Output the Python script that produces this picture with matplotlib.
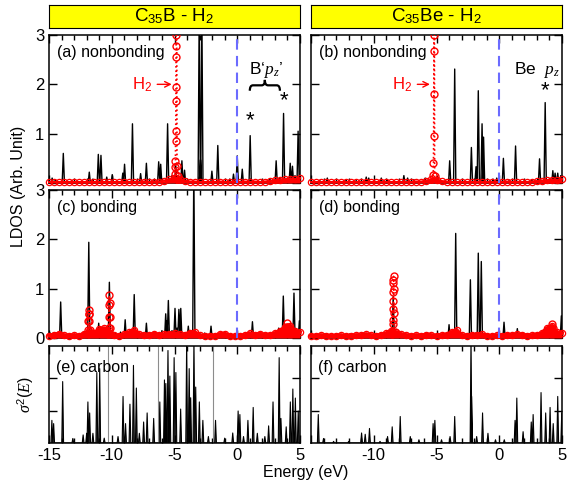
import numpy as np
import matplotlib
matplotlib.use('Agg')
import matplotlib.pyplot as plt
from matplotlib.ticker import MultipleLocator
from matplotlib.path import Path
from matplotlib.patches import PathPatch

plt.rcParams['font.family'] = ['Liberation Sans', 'DejaVu Sans']
plt.rcParams['axes.unicode_minus'] = False
plt.rcParams['mathtext.fontset'] = 'custom'
plt.rcParams['mathtext.rm'] = 'Liberation Sans'
plt.rcParams['mathtext.sf'] = 'Liberation Sans'
plt.rcParams['mathtext.it'] = 'Liberation Serif:italic'

# ---- black LDOS peaks (energy eV, height) ----
a_e = [-14.75, -14.5, -13.86, -13.2, -11.79, -11.5, -11.07, -10.86, -10.4, -9.96, -9.12, -8.98, -8.35, -7.7,
       -7.24, -6.6, -6.26, -6.1, -5.55, -5.2, -4.9, -4.41, -4.2, -3.03, -2.93, -2.82, -2.02, -1.55, -0.6, -0.3,
       0.0, 0.4, 1.03, 2.0, 2.6, 3.1, 3.4, 3.69, 4.22, 4.4, 4.6, 4.85]
a_h = [0.10, 0.06, 0.60, 0.05, 0.22, 0.08, 0.58, 0.56, 0.12, 0.17, 0.20, 0.38, 1.20, 0.19,
       0.40, 0.08, 0.43, 0.38, 1.20, 0.15, 0.35, 0.45, 0.26, 3.5, 0.47, 3.5, 0.24, 0.76, 0.08, 0.18,
       0.55, 0.28, 0.96, 0.06, 0.08, 0.45, 0.10, 1.41, 0.40, 0.34, 0.15, 1.05]

b_e = [-14.3, -13.7, -12.8, -12.2, -11.4, -10.6, -10.4, -9.4, -8.9, -7.6, -7.3, -6.8, -5.9, -3.95, -3.55,
       -2.22, -1.85, -1.67, -1.37, -1.25, -0.5, -0.2, 0.33, 0.8, 1.3, 2.0, 2.6, 3.21, 3.66, 4.27, 4.45,
       4.66, 4.9]
b_h = [0.05, 0.10, 0.04, 0.06, 0.05, 0.12, 0.10, 0.10, 0.06, 0.15, 0.10, 0.07, 0.10, 0.45, 2.31,
       0.72, 0.33, 1.87, 1.20, 0.93, 0.08, 0.10, 0.50, 0.06, 0.75, 0.05, 0.06, 0.49, 1.63, 0.25, 0.20,
       0.20, 0.15]

c_e = [-14.9, -14.5, -14.07, -13.3, -12.6, -12.2, -11.83, -11.04, -10.6, -10.19, -9.7, -9.3, -8.93, -8.21,
       -7.6, -7.24, -6.5, -6.0, -5.7, -5.6, -5.49, -5.2, -4.96, -4.8, -4.65, -4.5, -3.9, -3.46, -2.6, -2.09,
       -1.3, -0.5, 0.0, 0.5, 1.21, 2.0, 2.6, 3.3, 3.67, 4.1, 4.52, 4.95]
c_h = [0.10, 0.08, 0.73, 0.06, 0.08, 0.10, 1.94, 0.30, 0.15, 1.13, 0.10, 0.12, 0.37, 0.88,
       0.10, 0.30, 0.10, 0.15, 0.49, 0.35, 0.76, 0.15, 0.60, 0.2, 0.58, 0.60, 0.24, 3.5, 0.10, 0.24,
       0.06, 0.08, 0.12, 0.08, 0.33, 0.06, 0.08, 0.2, 0.85, 0.25, 0.91, 0.35]

d_e = [-14.5, -13.9, -13.3, -12.7, -12.1, -11.6, -10.8, -10.5, -9.6, -9.2, -8.45, -7.5, -7.0, -6.5, -5.7,
       -5.2, -4.4, -4.0, -3.47, -2.6, -2.3, -1.9, -1.67, -1.43, -0.9, -0.4, 0.38, 0.9, 1.44, 2.2, 3.0,
       3.8, 4.95]
d_h = [0.04, 0.06, 0.04, 0.05, 0.04, 0.05, 0.10, 0.06, 0.07, 0.05, 0.84, 0.05, 0.06, 0.04, 0.10,
       0.05, 0.08, 0.27, 2.12, 0.06, 1.18, 0.10, 1.72, 1.55, 0.05, 0.06, 0.32, 0.06, 0.19, 0.05, 0.06,
       0.08, 0.45]

# ---- carbon sigma^2(E) spikes ----
e_e = [-14.77, -14.63, -13.91, -13.1, -12.28, -12.0, -11.9, -11.76, -11.5, -11.19, -10.96, -10.6, -9.5,
       -9.1, -8.9, -8.55, -8.27, -8.04, -7.8, -7.46, -7.18, -6.66, -6.17, -5.8, -5.69, -5.52, -5.37,
       -5.03, -4.89, -4.51, -4.03, -3.83, -3.71, -3.45, -3.31, -3.02, -2.74, -2.3, -1.73, -1.0, -0.36,
       0.07, 0.21, 0.5, 0.85, 1.27, 1.6, 2.2, 2.5, 2.85, 3.34, 3.48, 3.9, 4.23, 4.43, 4.63, 4.86]
e_h = [0.7, 0.6, 1.9, 0.14, 0.25, 0.3, 1.27, 0.93, 0.3, 2.18, 2.3, 0.15, 0.2,
       1.44, 0.6, 1.2, 2.4, 1.7, 0.3, 0.65, 0.93, 0.76, 1.27, 1.95, 1.84, 2.86, 2.07,
       2.64, 2.18, 1.05, 3.2, 2.3, 1.4, 3.2, 1.73, 1.27, 0.7, 0.2, 0.7, 0.15, 0.31,
       0.99, 0.88, 0.2, 0.7, 1.1, 0.3, 0.2, 0.53, 1.27, 2.64, 0.76, 0.5, 1.27, 1.67, 1.39, 0.99]
e_gray_e = [-10.33, -6.32, -1.96]

f_e = [-14.42, -14.0, -13.2, -12.0, -10.97, -10.68, -10.34, -9.5, -8.9, -8.53, -7.89, -7.09, -6.4, -5.27,
       -5.13, -4.6, -3.92, -3.55, -2.25, -2.2, -1.8, -1.33, -0.9, -0.3, 0.4, 1.26, 1.4, 1.9, 2.55, 2.7,
       3.33, 3.7, 4.05, 4.3, 4.66, 4.98]
f_h = [0.88, 0.14, 0.05, 0.05, 0.31, 0.27, 0.45, 0.05, 0.2, 0.5, 0.82, 0.2, 0.1, 0.6,
       0.7, 0.1, 0.2, 0.82, 3.2, 1.44, 0.2, 0.93, 0.3, 0.1, 0.1, 0.7, 1.39, 0.35, 0.65, 0.88,
       1.56, 0.93, 1.1, 0.6, 1.44, 0.93]

# ---- H2 LDOS (red): coarse baseline + sharp peaks ----
base_e = [-15.0, -14.6, -14.2, -13.8, -13.4, -13.0, -12.6, -12.2, -11.8, -11.4,
          -11.0, -10.6, -10.2, -9.8, -9.4, -9.0, -8.6, -8.2, -7.8, -7.4,
          -7.0, -6.6, -6.2, -5.8, -5.4, -5.0, -4.6, -4.2, -3.8, -3.4,
          -3.0, -2.6, -2.2, -1.8, -1.4, -1.0, -0.6, -0.2, 0.2, 0.6,
          1.0, 1.4, 1.8, 2.2, 2.6, 3.0, 3.4, 3.8, 4.2, 4.6, 5.0]
red_a_base = [0.02, 0.02, 0.02, 0.02, 0.02, 0.02, 0.02, 0.02, 0.02, 0.02,
              0.02, 0.02, 0.02, 0.02, 0.02, 0.02, 0.02, 0.02, 0.02, 0.03,
              0.02, 0.03, 0.03, 0.05, 0.08, 0.10, 0.08, 0.05, 0.03, 0.03,
              0.02, 0.02, 0.02, 0.02, 0.03, 0.02, 0.02, 0.03, 0.02, 0.03,
              0.02, 0.03, 0.02, 0.03, 0.04, 0.06, 0.07, 0.08, 0.09, 0.08, 0.10]
red_b_base = [0.02, 0.02, 0.02, 0.02, 0.02, 0.02, 0.02, 0.02, 0.02, 0.02,
              0.02, 0.02, 0.02, 0.02, 0.02, 0.02, 0.02, 0.02, 0.02, 0.02,
              0.02, 0.03, 0.03, 0.05, 0.08, 0.06, 0.04, 0.03, 0.02, 0.02,
              0.02, 0.02, 0.02, 0.02, 0.02, 0.02, 0.02, 0.02, 0.02, 0.03,
              0.02, 0.02, 0.02, 0.02, 0.03, 0.04, 0.05, 0.06, 0.07, 0.06, 0.08]
red_c_base = [0.05, 0.07, 0.09, 0.06, 0.05, 0.06, 0.05, 0.09, 0.14, 0.10,
              0.18, 0.20, 0.16, 0.06, 0.05, 0.08, 0.12, 0.16, 0.08, 0.06,
              0.07, 0.09, 0.06, 0.08, 0.09, 0.10, 0.08, 0.07, 0.11, 0.12,
              0.06, 0.04, 0.05, 0.05, 0.08, 0.09, 0.05, 0.04, 0.05, 0.06,
              0.10, 0.07, 0.09, 0.06, 0.07, 0.10, 0.14, 0.22, 0.25, 0.15, 0.12]
red_d_base = [0.04, 0.05, 0.06, 0.05, 0.04, 0.05, 0.06, 0.04, 0.05, 0.06,
              0.06, 0.08, 0.06, 0.05, 0.07, 0.10, 0.14, 0.12, 0.08, 0.06,
              0.05, 0.06, 0.05, 0.07, 0.06, 0.05, 0.06, 0.07, 0.12, 0.16,
              0.06, 0.05, 0.07, 0.06, 0.08, 0.05, 0.04, 0.06, 0.05, 0.07,
              0.06, 0.08, 0.07, 0.05, 0.06, 0.07, 0.10, 0.20, 0.24, 0.12, 0.10]

h2a_e = [-4.97, -4.95, -4.935, -4.925, -4.91, -4.90, -4.89, -4.885, -4.878, -4.874, -4.87, -4.86, -4.82,
         -4.80, -4.76, -4.70]
h2a_h = [0.10, 0.18, 0.33, 0.45, 0.85, 1.06, 1.66, 1.95, 2.55, 2.77, 3.0, 3.8, 3.2, 0.35, 0.15, 0.06]
h2b_e = [-5.30, -5.26, -5.24, -5.225, -5.215, -5.205, -5.20, -5.19, -5.17, -5.15, -5.10]
h2b_h = [0.05, 0.17, 0.40, 0.95, 1.81, 2.67, 3.0, 3.8, 3.2, 0.15, 0.05]
h2c_e = [-11.92, -11.89, -11.87, -11.85, -11.83, -11.81, -11.79, -11.76,
         -10.28, -10.25, -10.23, -10.21, -10.19, -10.17, -10.15, -10.12, 3.92, 4.0, 4.08]
h2c_h = [0.08, 0.17, 0.35, 0.49, 0.56, 0.49, 0.35, 0.17,
         0.08, 0.20, 0.42, 0.66, 0.87, 0.70, 0.42, 0.20, 0.22, 0.30, 0.22]
h2d_e = [-8.55, -8.52, -8.50, -8.48, -8.47, -8.46, -8.45, -8.44, -8.43, -8.42, -8.40, -8.37, -8.33,
         4.12, 4.2, 4.28]
h2d_h = [0.08, 0.13, 0.28, 0.37, 0.59, 0.74, 0.94, 1.11, 1.18, 1.25, 1.0, 0.5, 0.12, 0.2, 0.28, 0.2]


def spikes(ax, e, h, w=0.09, color='k', lw=1.0, fill=False):
    order = np.argsort(e)
    xs, ys = [], []
    for i in order:
        xs += [e[i] - w, e[i], e[i] + w]
        ys += [0, h[i], 0]
    if fill:
        ax.fill(xs, ys, color='0.25', lw=0)
    ax.plot(xs, ys, color=color, lw=lw)


def red_curve(ax, e, h, base_h, base_lw=1.5):
    ax.fill_between(base_e, 0, base_h, color='red', lw=0, zorder=3)
    ax.plot(base_e, base_h, color='red', lw=base_lw, marker='o', mfc='none', ms=4.5, mew=0.9,
            zorder=3, clip_on=False)
    # split the peak points into separate groups
    e = np.asarray(e)
    h = np.asarray(h)
    cuts = np.where(np.diff(e) > 0.5)[0] + 1
    for ge, gh in zip(np.split(e, cuts), np.split(h, cuts)):
        ax.plot(ge, gh, color='red', ls=':', lw=1.2, marker='o', mfc='none', ms=5, mew=1.0, zorder=4)


def style(ax, ymax=3):
    ax.set_xlim(-15, 5)
    ax.set_ylim(0, ymax)
    ax.xaxis.set_major_locator(MultipleLocator(5))
    ax.xaxis.set_minor_locator(MultipleLocator(1))
    ax.yaxis.set_major_locator(MultipleLocator(1))
    ax.tick_params(which='both', direction='in', top=True, right=True, labelsize=12)
    ax.tick_params(which='major', length=6, width=1)
    ax.tick_params(which='minor', length=3.5, width=1)
    for s in ax.spines.values():
        s.set_linewidth(1.1)


fig = plt.figure(figsize=(5.67, 4.82), dpi=100)
W = 251 / 567
lefts = [49 / 567, 311 / 567]
rows = [(1 - 183 / 482, 148 / 482), (1 - 338 / 482, 148 / 482), (1 - 443 / 482, 97 / 482)]

axes = [[fig.add_axes([l, b, W, hgt]) for l in lefts] for b, hgt in rows]

# headers
for l, title in zip(lefts, ['C$_{35}$B - H$_2$', 'C$_{35}$Be - H$_2$']):
    hx = fig.add_axes([l, 1 - 28 / 482, W, 23 / 482])
    hx.set_facecolor('#ffff00')
    hx.set_xticks([])
    hx.set_yticks([])
    hx.text(0.5, 0.5, title, ha='center', va='center', fontsize=13.5, transform=hx.transAxes)

blue = (0.42, 0.42, 1.0)
panels = [
    (axes[0][0], a_e, a_h, h2a_e, h2a_h, red_a_base, '(a) nonbonding', 1.5),
    (axes[0][1], b_e, b_h, h2b_e, h2b_h, red_b_base, '(b) nonbonding', 1.5),
    (axes[1][0], c_e, c_h, h2c_e, h2c_h, red_c_base, '(c) bonding', 2.8),
    (axes[1][1], d_e, d_h, h2d_e, h2d_h, red_d_base, '(d) bonding', 2.8),
]
for ax, be, bh, re_, rh, rb, lab, blw in panels:
    style(ax)
    spikes(ax, be, bh)
    red_curve(ax, re_, rh, rb, blw)
    ax.axvline(0, color=blue, ls=(0, (5, 3)), lw=1.5, zorder=5)
    ax.text(0.032, 0.935, lab, transform=ax.transAxes, ha='left', va='top', fontsize=11.5)
    ax.set_xticklabels([])

for ax in (axes[0][0], axes[1][0]):
    ax.set_yticks([0, 1, 2, 3])
axes[0][0].set_yticklabels(['', '1', '2', '3'])
axes[1][0].set_yticklabels(['0', '1', '2', '3'])
for ax in (axes[0][1], axes[1][1]):
    ax.set_yticklabels([])

# annotations in nonbonding panels
for ax, tx, tip in ((axes[0][0], -7.6, -5.0), (axes[0][1], -7.75, -5.3)):
    ax.text(tx, 2.0, 'H$_2$', color='red', ha='center', va='center', fontsize=12)
    ax.annotate('', xy=(tip, 2.0), xytext=(tx + 1.0, 2.0),
                arrowprops=dict(arrowstyle='->', color='red', lw=1.0))

axa = axes[0][0]
axa.text(1.03, 1.27, '*', ha='center', va='center', fontsize=16)
axa.text(3.69, 1.67, '*', ha='center', va='center', fontsize=16)
axa.text(2.3, 2.3, 'B‘$p_z$’', ha='center', va='center', fontsize=12.5)
x0, x1, yb = 1.0, 3.4, 1.98
xm = (x0 + x1) / 2
verts = [(x0, 1.87), (x0, yb), (x0 + 0.25, yb), (xm - 0.25, yb), (xm, yb), (xm, 2.09),
         (xm, yb), (xm + 0.25, yb), (x1 - 0.25, yb), (x1, yb), (x1, 1.87)]
codes = [Path.MOVETO, Path.CURVE3, Path.CURVE3, Path.LINETO, Path.CURVE3, Path.CURVE3,
         Path.CURVE3, Path.CURVE3, Path.LINETO, Path.CURVE3, Path.CURVE3]
axa.add_patch(PathPatch(Path(verts, codes), fill=False, lw=1.6, color='k'))

axb = axes[0][1]
axb.text(3.66, 1.87, '*', ha='center', va='center', fontsize=16)
axb.text(1.2, 2.3, 'Be  $p_z$', ha='left', va='center', fontsize=12.5)

# carbon panels
ae, af = axes[2]
for ax in (ae, af):
    style(ax)
    ax.set_yticks([1, 2])
    ax.set_yticklabels([])
spikes(ae, e_e, e_h, w=0.07, lw=0.8, fill=True)
ae.vlines(e_gray_e, 0, 3, color='0.55', lw=0.8)
spikes(af, f_e, f_h, w=0.07, lw=0.8, fill=True)
ae.set_xticks([-15, -10, -5, 0, 5])
ae.set_xticklabels(['-15', '-10', '-5', '0', '5'])
af.set_xticks([-15, -10, -5, 0, 5])
af.set_xticklabels(['', '-10', '-5', '0', '5'])
ae.text(0.028, 0.86, '(e) carbon', transform=ae.transAxes, ha='left', va='top', fontsize=11.5)
af.text(0.028, 0.86, '(f) carbon', transform=af.transAxes, ha='left', va='top', fontsize=11.5)

fig.text(0.032, 1 - 186 / 482, 'LDOS (Arb. Unit)', rotation=90, ha='center', va='center', fontsize=11.5)
fig.text(0.045, 1 - 395 / 482, r'$\sigma^2(E)$', rotation=90, ha='center', va='center', fontsize=11.5)
fig.text(306 / 567, 1 - 472 / 482, 'Energy (eV)', ha='center', va='center', fontsize=11.5)

fig.savefig('out.png', dpi=100)
